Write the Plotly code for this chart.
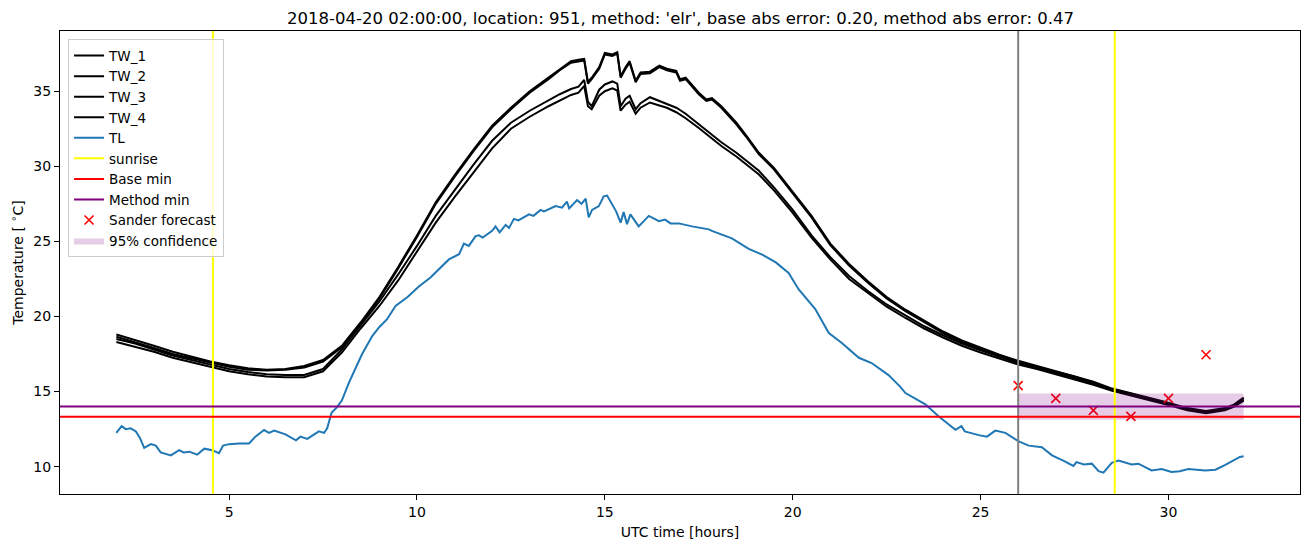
import plotly.graph_objects as go

# ---------------- data ----------------
tw_hours = [2.0, 2.5, 3.0, 3.5, 4.0, 4.5, 5.0, 5.5, 6.0, 6.5, 7.0, 7.5, 8.0, 8.5, 9.0, 9.5,
            10.0, 10.5, 11.0, 11.5, 12.0, 12.5, 13.0, 13.5, 13.8, 14.1, 14.3, 14.45, 14.55, 14.65,
            14.85, 15.0, 15.2, 15.33, 15.42, 15.55, 15.66, 15.82, 15.95, 16.2, 16.45, 16.65, 16.9,
            17.0, 17.15, 17.5, 17.7, 17.85, 18.1, 18.5, 18.75, 19.1, 19.5, 20.0, 20.5, 21.0, 21.5,
            22.0, 22.5, 23.0, 23.5, 24.0, 24.5, 25.0, 25.5, 26.0, 26.5, 27.0, 27.5, 28.0, 28.5,
            29.0, 29.5, 30.0, 30.5, 31.0, 31.5, 31.75, 32.0]

tw_1 = [18.8, 18.45, 18.05, 17.65, 17.3, 17.0, 16.75, 16.55, 16.45, 16.5, 16.7, 17.1, 18.05, 19.6, 21.3, 23.3,
        25.4, 27.6, 29.4, 31.1, 32.7, 33.9, 35.0, 35.9, 36.5, 37.0, 37.1, 37.15, 35.6, 35.9,
        36.6, 37.55, 37.45, 37.6, 36.0, 36.6, 37.0, 35.7, 36.25, 36.3, 36.7, 36.5, 36.35,
        35.8, 35.9, 34.9, 34.45, 34.55, 34.0, 32.9, 32.1, 30.9, 29.9, 28.3, 26.7, 24.85, 23.5,
        22.35, 21.3, 20.45, 19.7, 19.0, 18.4, 17.9, 17.45, 17.05, 16.7, 16.35, 16.05, 15.65, 15.2,
        14.9, 14.6, 14.25, 13.9, 13.7, 13.9, 14.15, 14.6]

tw_2 = [18.65, 18.3, 17.9, 17.5, 17.2, 16.9, 16.65, 16.45, 16.4, 16.45, 16.6, 17.0, 17.95, 19.5, 21.2, 23.2,
        25.3, 27.5, 29.3, 31.0, 32.6, 33.8, 34.9, 35.8, 36.4, 36.9, 37.0, 37.05, 35.5, 35.8,
        36.5, 37.45, 37.35, 37.5, 35.9, 36.5, 36.9, 35.6, 36.15, 36.2, 36.6, 36.4, 36.25,
        35.7, 35.8, 34.8, 34.35, 34.45, 33.9, 32.8, 32.0, 30.8, 29.8, 28.2, 26.6, 24.75, 23.4,
        22.25, 21.2, 20.35, 19.6, 18.9, 18.3, 17.8, 17.35, 16.95, 16.65, 16.3, 16.0, 15.6, 15.15,
        14.85, 14.55, 14.2, 13.85, 13.65, 13.85, 14.1, 14.55]

tw_3 = [18.5, 18.2, 17.8, 17.4, 17.1, 16.8, 16.5, 16.3, 16.15, 16.1, 16.1, 16.5, 17.8, 19.4, 21.0, 22.8,
        24.7, 26.7, 28.4, 30.1, 31.7, 32.9, 33.7, 34.4, 34.8, 35.15, 35.3, 35.75, 34.3, 34.0,
        35.1, 35.45, 35.65, 35.5, 34.0, 34.5, 34.7, 33.8, 34.2, 34.6, 34.35, 34.2, 33.9,
        33.75, 33.5, 32.8, 32.4, 32.1, 31.6, 30.9, 30.4, 29.7, 28.6, 27.1, 25.4, 23.95, 22.7,
        21.7, 20.8, 20.05, 19.35, 18.75, 18.2, 17.75, 17.3, 16.9, 16.6, 16.25, 15.95, 15.55, 15.1,
        14.8, 14.5, 14.15, 13.8, 13.6, 13.8, 14.05, 14.45]

tw_4 = [18.3, 18.0, 17.65, 17.25, 16.95, 16.65, 16.35, 16.15, 16.0, 15.95, 15.95, 16.35, 17.6, 19.2, 20.7, 22.4,
        24.3, 26.25, 27.95, 29.6, 31.2, 32.5, 33.3, 34.0, 34.4, 34.75, 34.9, 35.35, 34.0, 33.8,
        34.7, 35.0, 35.2, 35.05, 33.7, 34.1, 34.3, 33.5, 33.9, 34.25, 34.05, 33.9, 33.6,
        33.45, 33.2, 32.55, 32.15, 31.85, 31.35, 30.65, 30.15, 29.45, 28.4, 26.9, 25.25, 23.8, 22.5,
        21.55, 20.65, 19.9, 19.2, 18.6, 18.05, 17.6, 17.2, 16.8, 16.5, 16.15, 15.85, 15.45, 15.05,
        14.75, 14.45, 14.1, 13.75, 13.55, 13.75, 14.0, 14.4]

tl_hours = [2.0, 2.14, 2.25, 2.38, 2.52, 2.63, 2.74, 2.92, 3.05, 3.18, 3.45, 3.67, 3.79, 3.94, 4.15, 4.34,
            4.55, 4.73, 4.84, 5.0, 5.27, 5.53, 5.7, 5.93, 6.06, 6.2, 6.5, 6.78, 6.9, 7.08, 7.39, 7.53,
            7.61, 7.73, 7.85, 8.0, 8.19, 8.54, 8.81, 9.0, 9.2, 9.43, 9.75, 10.05, 10.36, 10.6, 10.85,
            11.12, 11.25, 11.38, 11.56, 11.65, 11.75, 12.0, 12.09, 12.2, 12.36, 12.45, 12.58, 12.7,
            12.98, 13.1, 13.29, 13.38, 13.69, 13.86, 13.99, 14.05, 14.26, 14.38, 14.49, 14.57, 14.66,
            14.84, 14.97, 15.06, 15.19, 15.3, 15.42, 15.5, 15.59, 15.68, 15.9, 16.17, 16.44, 16.6,
            16.75, 16.97, 17.32, 17.5, 17.77, 17.85, 18.11, 18.38, 18.83, 19.2, 19.55, 19.89, 20.16,
            20.6, 20.96, 21.3, 21.76, 22.1, 22.55, 22.87, 23.0, 23.53, 23.88, 24.33, 24.49, 24.58,
            24.95, 25.17, 25.39, 25.66, 26.0, 26.28, 26.63, 26.9, 27.2, 27.47, 27.55, 27.75, 27.96,
            28.14, 28.27, 28.49, 28.67, 29.02, 29.2, 29.55, 29.82, 30.08, 30.3, 30.53, 30.98, 31.25,
            31.5, 31.9, 32.0]

tl = [12.25, 12.7, 12.5, 12.55, 12.35, 11.9, 11.25, 11.5, 11.4, 10.95, 10.75, 11.1, 10.95, 11.0, 10.8, 11.2,
      11.1, 10.9, 11.4, 11.5, 11.55, 11.55, 12.0, 12.45, 12.25, 12.4, 12.15, 11.75, 12.0, 11.85, 12.35, 12.25,
      12.55, 13.6, 13.9, 14.4, 15.6, 17.5, 18.7, 19.3, 19.8, 20.7, 21.3, 22.0, 22.6, 23.2, 23.8,
      24.15, 24.85, 24.7, 25.35, 25.4, 25.25, 25.7, 26.0, 25.6, 26.1, 25.9, 26.5, 26.4,
      26.8, 26.7, 27.1, 27.0, 27.35, 27.25, 27.65, 27.2, 27.75, 27.5, 27.85, 26.6, 27.1,
      27.35, 28.0, 28.05, 27.45, 27.0, 26.25, 26.95, 26.15, 26.8, 26.0, 26.7, 26.35, 26.45,
      26.2, 26.2, 26.0, 25.9, 25.8, 25.7, 25.45, 25.2, 24.5, 24.1, 23.6, 22.9, 21.8,
      20.5, 18.9, 18.25, 17.25, 16.9, 16.1, 15.3, 14.9, 14.15, 13.35, 12.45, 12.7, 12.35,
      12.1, 12.0, 12.4, 12.25, 11.7, 11.4, 11.3, 10.75, 10.4, 10.05, 10.3, 10.15, 10.2,
      9.7, 9.6, 10.25, 10.4, 10.15, 10.2, 9.75, 9.85, 9.65, 9.7, 9.85, 9.75, 9.8,
      10.1, 10.65, 10.7]

sunrise_hours = [4.57, 28.57]
forecast_start = 26.0
base_min = 13.33
method_min = 14.0

forecast_hours = [26, 27, 28, 29, 30, 31]
sander_forecast = [15.4, 14.55, 13.75, 13.35, 14.55, 17.45]

conf_hours = [26.0, 32.0]
conf_low = [13.13, 13.13]
conf_high = [14.87, 14.87]

title_text = "2018-04-20 02:00:00, location: 951, method: 'elr', base abs error: 0.20, method abs error: 0.47"

# ---------------- figure ----------------
FONT = "DejaVu Sans"
fig = go.Figure()

for name, vals in [("TW_1", tw_1), ("TW_2", tw_2), ("TW_3", tw_3), ("TW_4", tw_4)]:
    fig.add_trace(go.Scatter(x=tw_hours, y=vals, mode="lines", name=name,
                             line=dict(color="black", width=2)))

fig.add_trace(go.Scatter(x=tl_hours, y=tl, mode="lines", name="TL",
                         line=dict(color="#1f77b4", width=2)))

# legend-only entries for reference lines drawn as shapes
fig.add_trace(go.Scatter(x=[None], y=[None], mode="lines", name="sunrise",
                         line=dict(color="#ffff00", width=2)))
fig.add_trace(go.Scatter(x=[None], y=[None], mode="lines", name="Base min",
                         line=dict(color="#ff0000", width=2)))
fig.add_trace(go.Scatter(x=[None], y=[None], mode="lines", name="Method min",
                         line=dict(color="#800080", width=2)))

fig.add_trace(go.Scatter(x=forecast_hours, y=sander_forecast, mode="markers", name="Sander forecast",
                         marker=dict(symbol="x-thin", size=9, color="#ff0000",
                                     line=dict(color="#ff0000", width=1.6))))

fig.add_trace(go.Scatter(x=conf_hours, y=conf_low, mode="lines", showlegend=False,
                         line=dict(width=0, color="rgba(128,0,128,0)"), hoverinfo="skip"))
fig.add_trace(go.Scatter(x=conf_hours, y=conf_high, mode="lines", name="95% confidence",
                         fill="tonexty", fillcolor="rgba(128,0,128,0.2)",
                         line=dict(width=0, color="rgba(128,0,128,0)")))

shapes = []
for s in sunrise_hours:
    shapes.append(dict(type="line", xref="x", yref="paper", x0=s, x1=s, y0=0, y1=1,
                       line=dict(color="#ffff00", width=2), layer="above"))
shapes.append(dict(type="line", xref="x", yref="paper", x0=forecast_start, x1=forecast_start,
                   y0=0, y1=1, line=dict(color="#808080", width=2), layer="above"))
shapes.append(dict(type="line", xref="paper", yref="y", x0=0, x1=1, y0=base_min, y1=base_min,
                   line=dict(color="#ff0000", width=2), layer="above"))
shapes.append(dict(type="line", xref="paper", yref="y", x0=0, x1=1, y0=method_min, y1=method_min,
                   line=dict(color="#800080", width=2), layer="above"))

fig.update_layout(
    width=1310, height=547,
    margin=dict(l=60, r=10, t=31, b=53),
    paper_bgcolor="white", plot_bgcolor="white",
    font=dict(family=FONT, size=14, color="black"),
    title=dict(text=title_text, x=0.5195, xanchor="center", y=0.967, yanchor="middle",
               yref="container", font=dict(family=FONT, size=16.5, color="black")),
    shapes=shapes,
    showlegend=True,
    legend=dict(x=0.0065, y=0.982, xanchor="left", yanchor="top", traceorder="normal",
                bgcolor="rgba(255,255,255,0.8)", bordercolor="#cccccc", borderwidth=1,
                font=dict(family=FONT, size=13.5), tracegroupgap=0, itemwidth=30),
)

fig.update_xaxes(range=[0.5, 33.5], tickvals=[5, 10, 15, 20, 25, 30],
                 showgrid=False, zeroline=False, showline=True, mirror=True,
                 linecolor="black", linewidth=1, ticks="outside", ticklen=5, tickwidth=1,
                 tickcolor="black", tickfont=dict(family=FONT, size=14),
                 title=dict(text="UTC time [hours]", font=dict(family=FONT, size=14), standoff=8))
fig.update_yaxes(range=[8.18, 39.01], tickvals=[10, 15, 20, 25, 30, 35],
                 showgrid=False, zeroline=False, showline=True, mirror=True,
                 linecolor="black", linewidth=1, ticks="outside", ticklen=5, tickwidth=1,
                 tickcolor="black", tickfont=dict(family=FONT, size=14),
                 title=dict(text="Temperature [ <sup>∘</sup>C]", font=dict(family=FONT, size=14),
                            standoff=6))

fig.write_html("out.html", config={"displayModeBar": False},
               post_script="document.body.style.margin='0';document.body.style.overflow='hidden';")
